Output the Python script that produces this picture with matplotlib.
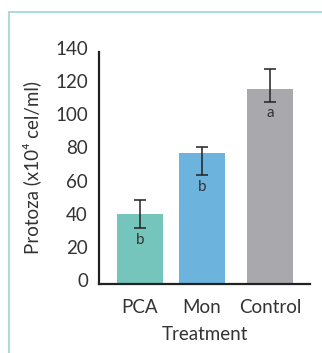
import matplotlib.pyplot as plt
from matplotlib.patches import Rectangle
from matplotlib.transforms import ScaledTranslation

# data
treatments = ["PCA", "Mon", "Control"]
means = [42, 79, 117.5]
err_low = [33.8, 65.6, 110]
err_high = [50.7, 82.7, 129.7]
letters = ["b", "b", "a"]
yticks = [0, 20, 40, 60, 80, 100, 120, 140]

colors = ["#76c5bd", "#6cb4de", "#a9a9ad"]
text_col = "#333333"

plt.rcParams['font.family'] = ['Lato', 'DejaVu Sans']

fig = plt.figure(figsize=(3.22, 3.53), dpi=100)

# light teal frame running off the right and bottom edges
fig.patches.append(Rectangle((9 / 322, -0.1), 1.2, 1 - 12 / 353 + 0.1,
                             transform=fig.transFigure, fill=False,
                             edgecolor="#a9dcdb", lw=1.4, zorder=0))

ax = fig.add_axes([99 / 322, 1 - 284 / 353, 211 / 322, 232 / 353])

x = [0, 1, 2.097]
ax.bar(x, means, width=0.742, color=colors, zorder=2)
yerr = [[m - lo for m, lo in zip(means, err_low)],
        [hi - m for m, hi in zip(means, err_high)]]
ax.errorbar(x, means, yerr=yerr, fmt='none', ecolor="#222222",
            elinewidth=1.1, capsize=4.5, capthick=1.1, zorder=3)

for xi, lo, lt in zip(x, err_low, letters):
    ax.text(xi, lo - 7, lt, ha='center', va='center', fontsize=11,
            color=text_col, zorder=4)

ax.set_xlim(-0.661, 2.742)
ax.set_ylim(0, 140)
ax.set_yticks(yticks)
ax.set_xticks(x)
ax.set_xticklabels(treatments)
ax.tick_params(axis='both', length=0, labelsize=13.5, colors=text_col)
ax.tick_params(axis='y', pad=8)
ax.tick_params(axis='x', pad=11)

off = ScaledTranslation(0, 4 / 100, fig.dpi_scale_trans)
for lab in ax.get_yticklabels():
    lab.set_transform(lab.get_transform() + off)

for s in ["top", "right"]:
    ax.spines[s].set_visible(False)
for s in ["left", "bottom"]:
    ax.spines[s].set_linewidth(1.6)
    ax.spines[s].set_color("#222222")

ax.set_xlabel("Treatment", fontsize=13.5, color=text_col, labelpad=7)
ax.set_ylabel("Protoza (x10⁴ cel/ml)", fontsize=13.5, color=text_col, labelpad=10)

plt.savefig("out.png", dpi=100)
plt.close()
